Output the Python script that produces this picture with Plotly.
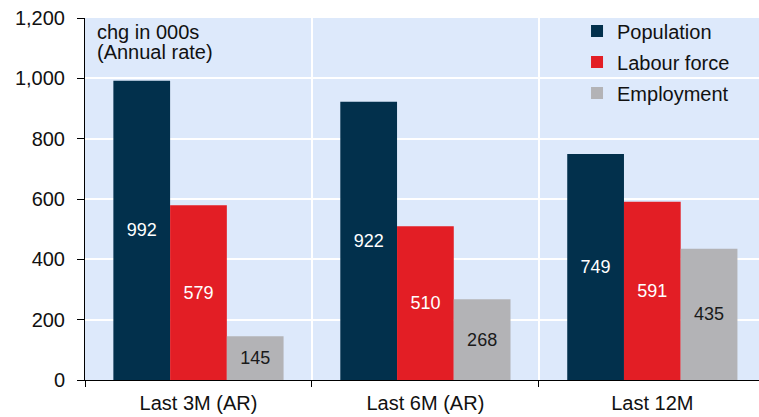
import plotly.graph_objects as go

categories = ["Last 3M (AR)", "Last 6M (AR)", "Last 12M"]
population = [992, 922, 749]
labour_force = [579, 510, 591]
employment = [145, 268, 435]
series_names = ["Population", "Labour force", "Employment"]
colors = ["#02304C", "#E31E25", "#B3B3B6"]
text_colors = ["white", "white", "#1a1a1a"]
note_lines = ["chg in 000s", "(Annual rate)"]

FONT = "Liberation Sans, Arial"

fig = go.Figure()
for i, (name, vals) in enumerate(zip(series_names, [population, labour_force, employment])):
    fig.add_trace(go.Bar(
        x=categories, y=vals, name=name,
        marker=dict(color=colors[i], line=dict(width=0)),
        text=[str(v) for v in vals],
        textposition="inside", insidetextanchor="middle",
        textfont=dict(color=text_colors[i], size=18, family=FONT),
        textangle=0,
        legendgroup=name,
    ))

fig.update_layout(
    width=759, height=417,
    margin=dict(l=85, r=0, t=18, b=37),
    paper_bgcolor="white", plot_bgcolor="#DDE9FB",
    barmode="group", bargap=0.25, bargroupgap=0,
    font=dict(family=FONT, size=20, color="#111111"),
    legend=dict(
        x=0.73, y=1.018, xanchor="left", yanchor="top",
        bgcolor="rgba(0,0,0,0)", font=dict(size=20),
        traceorder="grouped", tracegroupgap=2,
        itemwidth=30,
    ),
    xaxis=dict(
        type="category", range=[-0.5, 2.47],
        tickson="boundaries", showgrid=True, gridcolor="white", gridwidth=2,
        ticks="outside", ticklen=6, tickcolor="black",
        showline=True, linecolor="black", linewidth=1,
        tickfont=dict(size=20), ticklabelstandoff=5,
    ),
    yaxis=dict(
        range=[0, 1200], dtick=200, tickformat=",",
        showgrid=True, gridcolor="white", gridwidth=2,
        ticks="outside", ticklen=7, tickcolor="black",
        showline=True, linecolor="black", linewidth=1,
        zeroline=False, tickfont=dict(size=20), ticklabelstandoff=8,
    ),
    annotations=[
        dict(text=note_lines[0], xref="paper", yref="paper",
             x=0.015, y=0.961, xanchor="left", yanchor="middle", showarrow=False,
             font=dict(size=20)),
        dict(text=note_lines[1], xref="paper", yref="paper",
             x=0.015, y=0.906, xanchor="left", yanchor="middle", showarrow=False,
             font=dict(size=20)),
    ],
)

fig.write_html("out.html")
